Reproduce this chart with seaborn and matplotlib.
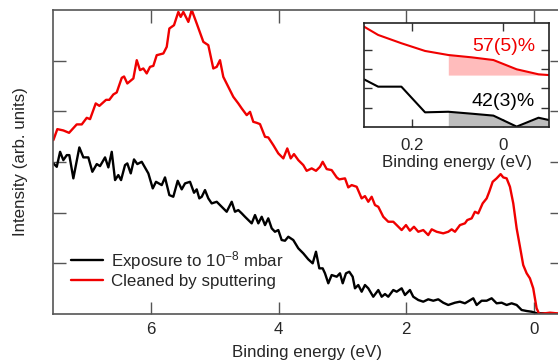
import matplotlib
matplotlib.use("Agg")
import matplotlib.pyplot as plt
import seaborn as sns
import numpy as np
import pandas as pd

# ---------------- data ----------------
red_E = [7.534, 7.472, 7.378, 7.288, 7.168, 7.089, 7.011, 6.959, 6.870, 6.813, 6.708, 6.657,
         6.594, 6.541, 6.462, 6.426, 6.375, 6.280, 6.227, 6.176, 6.124, 6.071, 6.019, 5.967,
         5.914, 5.810, 5.757, 5.716, 5.643, 5.575, 5.538, 5.497, 5.444, 5.418, 5.365, 5.287,
         5.183, 5.105, 5.027, 4.973, 4.922, 4.870, 4.713, 4.635, 4.581, 4.503, 4.451, 4.400,
         4.346, 4.295, 4.216, 4.165, 4.086, 4.008, 3.929, 3.867, 3.813, 3.762, 3.694, 3.616,
         3.563, 3.484, 3.417, 3.354, 3.312, 3.249, 3.171, 3.092, 3.052, 2.962, 2.911, 2.857,
         2.779, 2.701, 2.649, 2.597, 2.544, 2.492, 2.440, 2.362, 2.284, 2.205, 2.152, 2.074,
         2.006, 1.944, 1.881, 1.813, 1.735, 1.657, 1.603, 1.525, 1.422, 1.343, 1.290, 1.238,
         1.160, 1.082, 1.045, 0.976, 0.925, 0.873, 0.804, 0.741, 0.701, 0.647, 0.585, 0.522,
         0.481, 0.428, 0.376, 0.324, 0.271, 0.219, 0.168, 0.114, 0.063, 0.011, -0.042, -0.083,
         -0.251, -0.356, -0.44]
red_I = [3.432, 3.649, 3.623, 3.576, 3.742, 3.742, 3.872, 3.846, 4.156, 4.108, 4.227, 4.227,
         4.333, 4.373, 4.661, 4.688, 4.550, 4.649, 5.010, 4.813, 4.846, 4.748, 4.878, 4.897,
         5.108, 5.142, 5.272, 5.635, 5.700, 5.962, 5.864, 5.962, 5.832, 5.765, 6.000, 5.734,
         5.371, 5.306, 4.846, 4.878, 5.010, 4.680, 4.286, 4.156, 4.057, 3.925, 3.990, 3.793,
         3.773, 3.748, 3.497, 3.485, 3.333, 3.170, 3.071, 3.268, 3.071, 3.156, 3.037, 2.939,
         2.826, 2.874, 2.826, 2.905, 3.004, 2.860, 2.840, 2.696, 2.657, 2.677, 2.499, 2.544,
         2.511, 2.282, 2.327, 2.215, 2.314, 2.150, 2.116, 1.919, 1.821, 1.821, 1.755, 1.657,
         1.755, 1.643, 1.722, 1.623, 1.657, 1.558, 1.671, 1.623, 1.592, 1.623, 1.671, 1.623,
         1.755, 1.789, 1.854, 1.888, 2.018, 1.986, 2.183, 2.282, 2.412, 2.609, 2.677, 2.761,
         2.696, 2.677, 2.511, 2.183, 1.690, 1.327, 0.966, 0.803, 0.704, 0.507, 0.112, 0.000,
         0.026, 0.014, 0.010]

black_E = [7.534, 7.481, 7.429, 7.378, 7.324, 7.284, 7.221, 7.127, 7.064, 6.986, 6.923, 6.854,
           6.803, 6.724, 6.672, 6.619, 6.567, 6.516, 6.473, 6.411, 6.375, 6.321, 6.270, 6.218,
           6.149, 6.045, 5.976, 5.925, 5.835, 5.784, 5.716, 5.654, 5.585, 5.522, 5.470, 5.392,
           5.329, 5.287, 5.246, 5.208, 5.157, 5.105, 5.052, 4.973, 4.895, 4.817, 4.738, 4.687,
           4.635, 4.581, 4.530, 4.425, 4.373, 4.321, 4.268, 4.216, 4.165, 4.111, 4.060, 4.008,
           3.955, 3.903, 3.851, 3.773, 3.694, 3.616, 3.538, 3.469, 3.417, 3.365, 3.312, 3.276,
           3.224, 3.171, 3.092, 3.041, 2.998, 2.947, 2.895, 2.842, 2.806, 2.754, 2.701, 2.649,
           2.597, 2.519, 2.440, 2.387, 2.335, 2.284, 2.205, 2.152, 2.074, 2.022, 1.944, 1.892,
           1.813, 1.735, 1.657, 1.578, 1.500, 1.422, 1.343, 1.238, 1.160, 1.082, 1.014, 0.951,
           0.898, 0.820, 0.741, 0.663, 0.585, 0.506, 0.428, 0.350, 0.271, 0.193, 0.114, 0.036,
           -0.042, -0.146, -0.251, -0.356, -0.44]
black_I = [2.972, 2.905, 3.201, 3.037, 3.136, 3.136, 2.677, 3.288, 3.091, 3.091, 2.807, 2.959,
           2.919, 3.091, 2.893, 3.201, 2.643, 2.742, 2.643, 2.939, 2.972, 2.775, 3.051, 2.959,
           3.004, 2.775, 2.479, 2.609, 2.544, 2.696, 2.347, 2.314, 2.629, 2.460, 2.578, 2.609,
           2.393, 2.460, 2.282, 2.314, 2.446, 2.282, 2.183, 2.215, 2.116, 2.018, 2.215, 2.018,
           2.051, 1.986, 1.919, 1.789, 1.953, 1.789, 1.919, 1.755, 1.888, 1.690, 1.623, 1.657,
           1.460, 1.446, 1.525, 1.460, 1.296, 1.197, 1.079, 1.000, 1.229, 0.901, 0.901, 0.803,
           0.606, 0.769, 0.736, 0.803, 0.606, 0.803, 0.834, 0.736, 0.507, 0.572, 0.440, 0.572,
           0.507, 0.341, 0.473, 0.341, 0.394, 0.341, 0.473, 0.440, 0.507, 0.375, 0.473, 0.341,
           0.276, 0.243, 0.290, 0.262, 0.290, 0.223, 0.178, 0.223, 0.243, 0.211, 0.262, 0.310,
           0.178, 0.262, 0.262, 0.310, 0.211, 0.223, 0.178, 0.211, 0.178, 0.079, 0.059, 0.045,
           0.014, 0.014, 0.000, 0.000, 0.000]

inset_E = [0.305, 0.274, 0.223, 0.171, 0.120, 0.069, 0.021, -0.030, -0.078, -0.101]
inset_red = [5.20, 4.77, 4.34, 3.94, 3.73, 3.61, 3.47, 2.99, 2.73, 2.69]
inset_black = [2.47, 2.09, 2.09, 0.76, 0.79, 0.69, 0.59, 0.02, 0.48, 0.36]
inset_base_red = 2.69
fermi_cut = 0.12

labels = ["Exposure to 10$^{-8}$ mbar", "Cleaned by sputtering"]
pct_labels = ["57(5)%", "42(3)%"]
main_xticks = [6, 4, 2, 0]

# ---------------- style ----------------
sns.set_theme(style="ticks")
plt.rcParams["font.family"] = ["Liberation Sans", "DejaVu Sans"]
plt.rcParams["mathtext.fontset"] = "custom"
plt.rcParams["mathtext.rm"] = "Liberation Sans"
plt.rcParams["mathtext.it"] = "Liberation Sans:italic"
plt.rcParams["mathtext.bf"] = "Liberation Sans:bold"
FS = 12.2
RED = "#f00000"

fig = plt.figure(figsize=(5.58, 3.60), dpi=100)
ax = fig.add_axes([53 / 558, 46 / 360, 509 / 558, 304 / 360])

df_b = pd.DataFrame({"E": black_E, "I": black_I})
df_r = pd.DataFrame({"E": red_E, "I": red_I})
sns.lineplot(data=df_b, x="E", y="I", sort=False, estimator=None, color="black",
             lw=1.7, ax=ax, label=labels[0])
sns.lineplot(data=df_r, x="E", y="I", sort=False, estimator=None, color=RED,
             lw=1.7, ax=ax, label=labels[1])

ax.set_xlim(7.54, -0.44)
ax.set_ylim(0, 6)
ax.set_xticks(main_xticks)
ax.set_xticklabels([str(t) for t in main_xticks], fontsize=FS)
ax.set_yticks([1, 2, 3, 4, 5])
ax.set_yticklabels([])
ax.tick_params(direction="in", length=9, width=1, color="#555555",
               top=True, right=True, labelsize=FS, pad=6)
for s in ["left", "bottom", "top"]:
    ax.spines[s].set_color("#555555")
    ax.spines[s].set_linewidth(1.2)
ax.spines["right"].set_visible(False)
ax.set_xlabel("Binding energy (eV)", fontsize=FS, labelpad=5.5)
ax.set_ylabel("Intensity (arb. units)", fontsize=FS, labelpad=12)

leg = ax.legend(loc="upper left", bbox_to_anchor=(0.035, 0.215), frameon=False,
                fontsize=FS, handlelength=1.9, handletextpad=0.5,
                labelspacing=0.12, borderpad=0, borderaxespad=0)

# ---------------- inset ----------------
ins = fig.add_axes([364 / 558, 233 / 360, 185 / 558, 104 / 360])
E_arr = np.array(inset_E)
mask = E_arr <= fermi_cut + 1e-9
ins.fill_between(E_arr[mask], inset_base_red, np.array(inset_red)[mask],
                 color="#ffbcbc", lw=0)
ins.fill_between(E_arr[mask], 0, np.array(inset_black)[mask],
                 color="#bdbdbd", lw=0)
sns.lineplot(x=inset_E, y=inset_black, sort=False, estimator=None, color="black",
             lw=1.5, ax=ins)
sns.lineplot(x=inset_E, y=inset_red, sort=False, estimator=None, color=RED,
             lw=1.5, ax=ins)
ins.set_xlim(0.305, -0.101)
ins.set_ylim(0, 104 / 19.3)
ins.set_xticks([0.2, 0.0])
ins.set_xticklabels(["0.2", "0"], fontsize=FS)
ins.set_yticks([1, 2, 3, 4])
ins.set_yticklabels([])
ins.tick_params(direction="in", length=6, width=1, color="#333333",
                top=True, right=True, labelsize=FS, pad=8)
for s in ins.spines.values():
    s.set_color("#222222")
    s.set_linewidth(1.2)
ins.set_xlabel("Binding energy (eV)", fontsize=FS, labelpad=1.5)
ins.text(-0.070, 4.15, pct_labels[0], color=RED, fontsize=14, ha="right", va="center")
ins.text(-0.070, 1.30, pct_labels[1], color="black", fontsize=14, ha="right", va="center")

fig.savefig("out.png", dpi=100)
